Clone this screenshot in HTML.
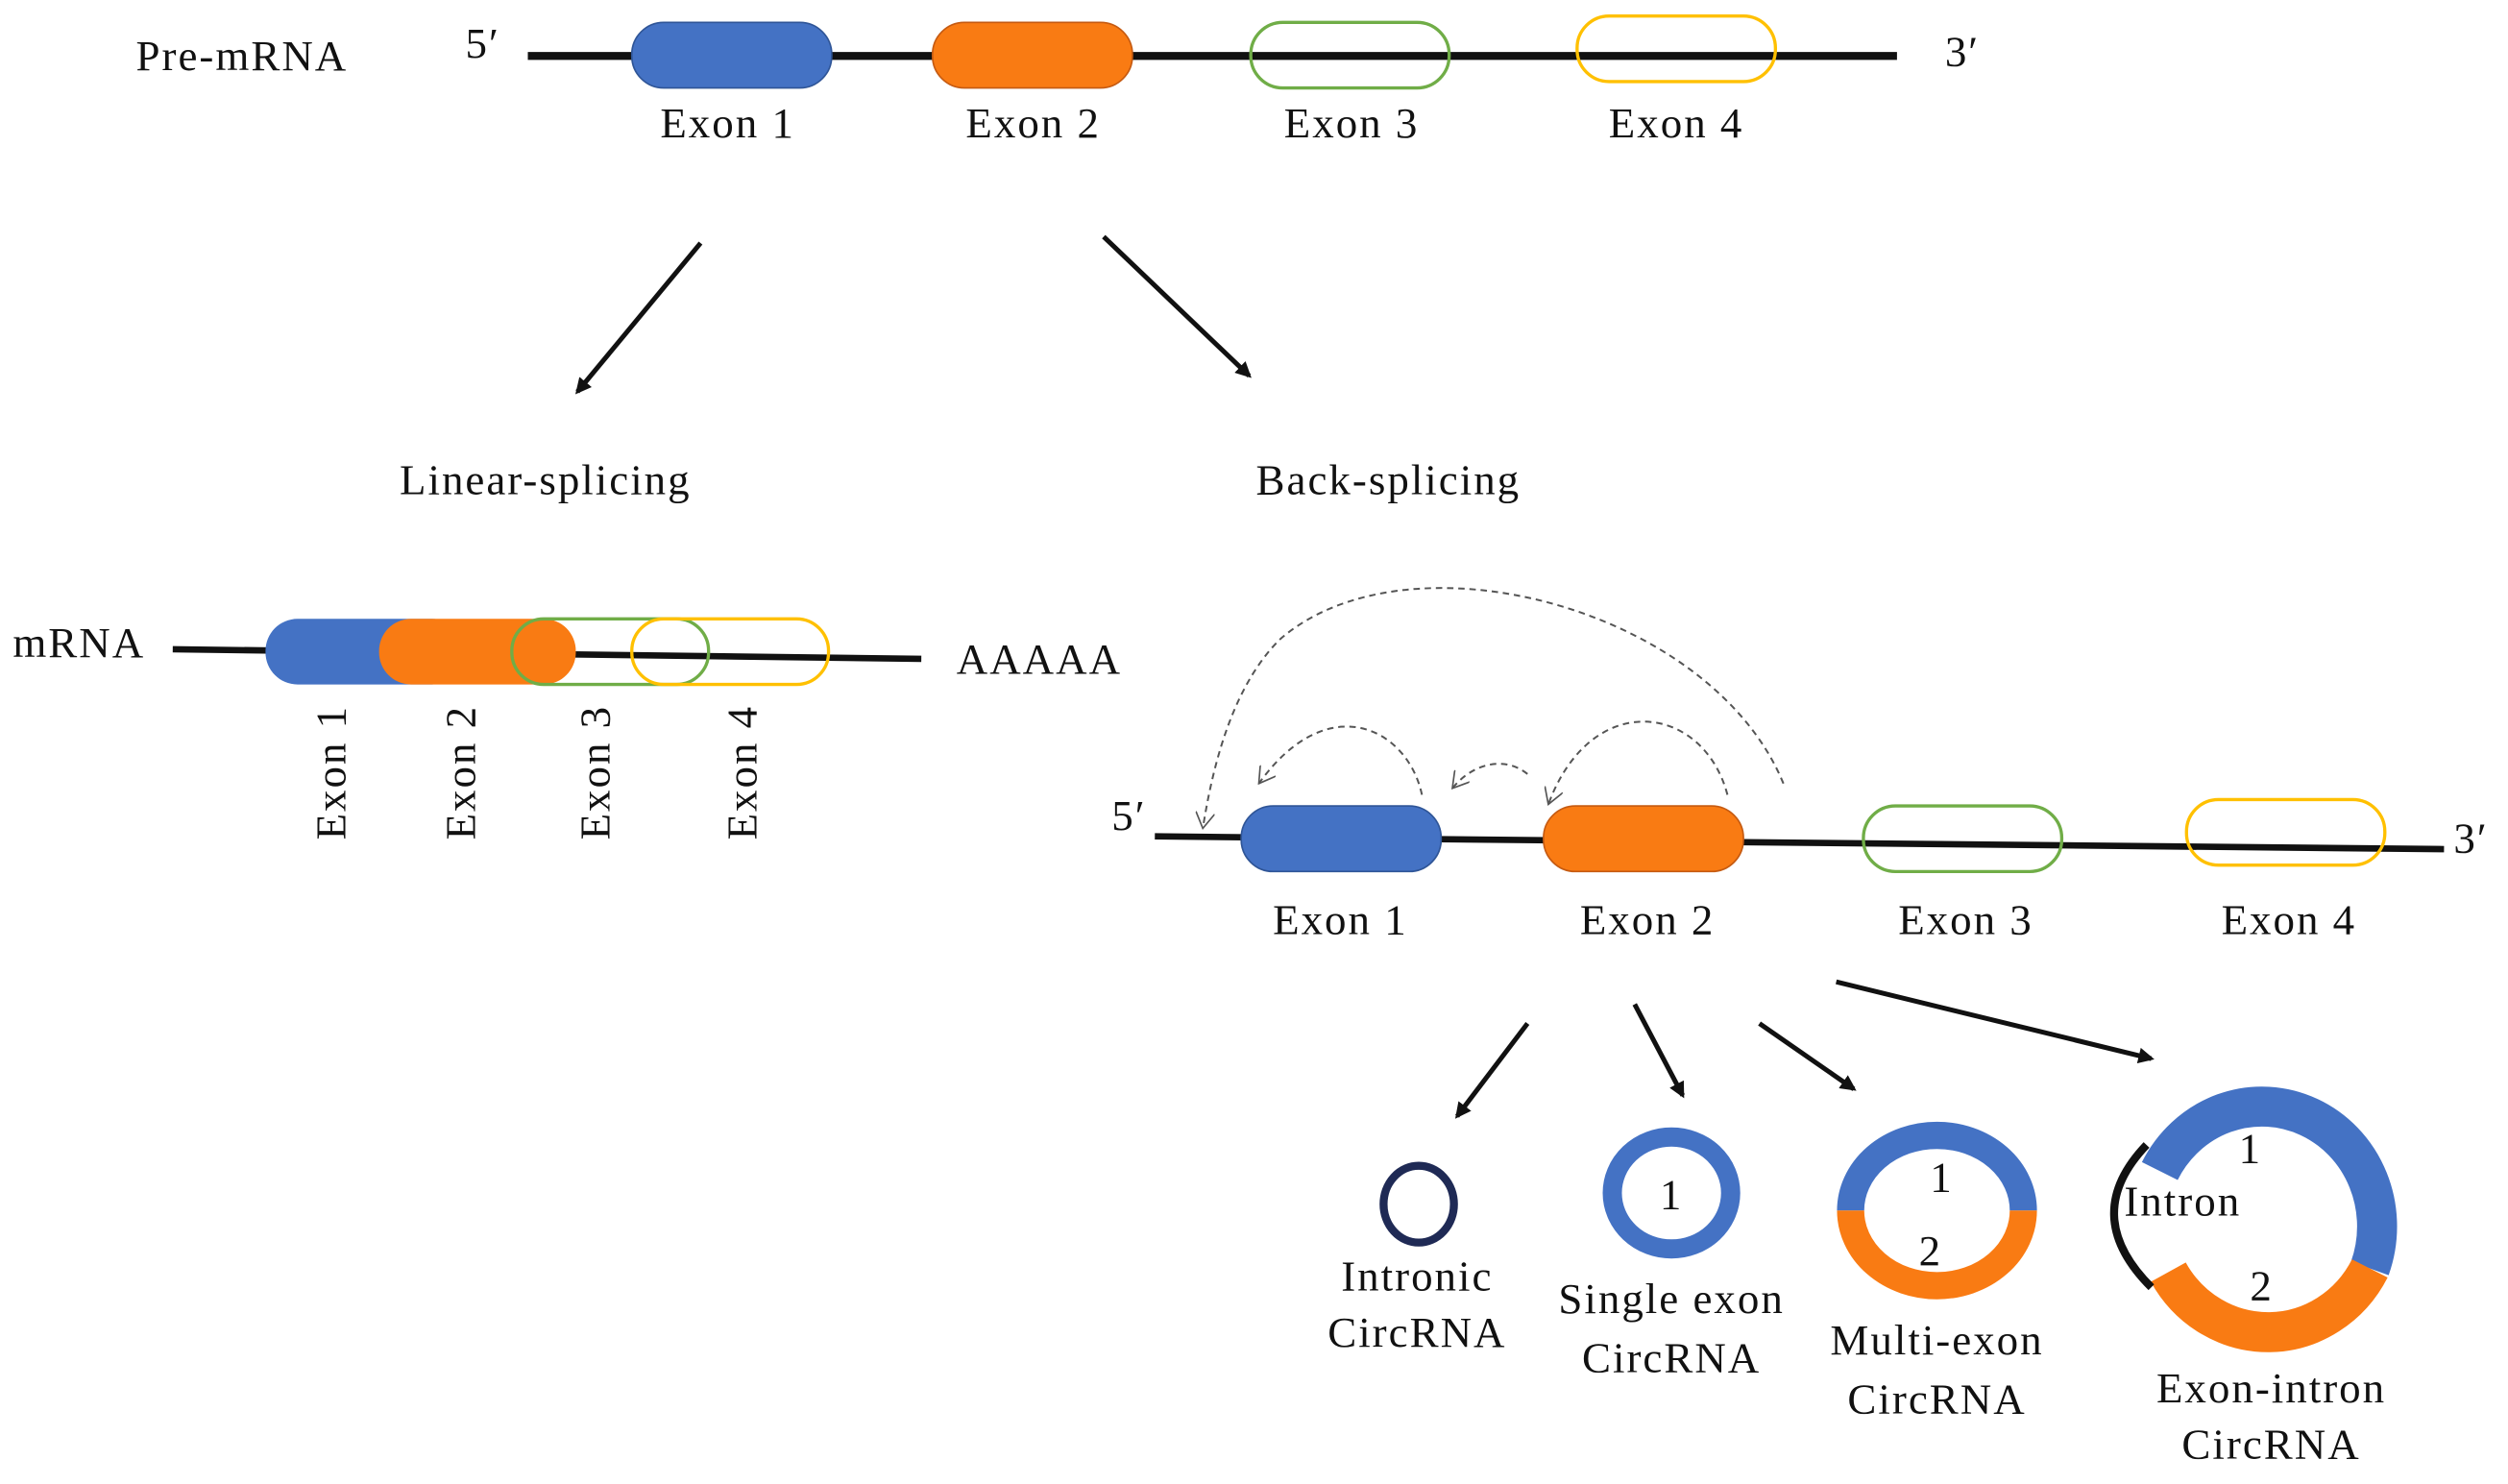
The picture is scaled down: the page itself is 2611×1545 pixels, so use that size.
<!DOCTYPE html>
<html><head><meta charset="utf-8"><style>
html,body{margin:0;padding:0;background:#fff;}
svg{display:block;}
text{font-family:"Liberation Serif",serif;font-size:27px;letter-spacing:1.2px;fill:#111;}
</style></head><body>
<svg width="2611" height="1545" viewBox="0 0 1568 928" preserveAspectRatio="none" xmlns="http://www.w3.org/2000/svg">
<defs>
<marker id="ah" markerWidth="10" markerHeight="10" refX="8" refY="5" orient="auto" markerUnits="userSpaceOnUse"><path d="M0,0 L10,5 L0,10 z" fill="#111"/></marker>
<marker id="dh" markerWidth="12" markerHeight="12" refX="10" refY="6" orient="auto" markerUnits="userSpaceOnUse"><path d="M0,0 L10,6 L0,12" fill="none" stroke="#555" stroke-width="1"/></marker>
</defs>
<!-- Pre-mRNA -->
<text x="85" y="44">Pre-mRNA</text>
<text x="291" y="36">5′</text>
<text x="1216" y="41">3′</text>
<line x1="330" y1="35" x2="1186" y2="35" stroke="#111" stroke-width="5"/>
<rect x="395" y="14" width="125" height="41" rx="20" fill="#4472C4" stroke="#2F5597" stroke-width="1"/>
<rect x="583" y="14" width="125" height="41" rx="20" fill="#F97B13" stroke="#C55A11" stroke-width="1"/>
<rect x="782" y="14" width="124" height="41" rx="20" fill="none" stroke="#70AD47" stroke-width="2"/>
<rect x="986" y="10" width="124" height="41" rx="20" fill="none" stroke="#FFC000" stroke-width="2"/>
<text x="455" y="86" text-anchor="middle">Exon 1</text>
<text x="646" y="86" text-anchor="middle">Exon 2</text>
<text x="845" y="86" text-anchor="middle">Exon 3</text>
<text x="1048" y="86" text-anchor="middle">Exon 4</text>
<line x1="438" y1="152" x2="361" y2="245" stroke="#111" stroke-width="3" marker-end="url(#ah)"/>
<line x1="690" y1="148" x2="781" y2="235" stroke="#111" stroke-width="3" marker-end="url(#ah)"/>
<text x="341" y="309" text-anchor="middle">Linear-splicing</text>
<text x="868" y="309" text-anchor="middle">Back-splicing</text>
<!-- mRNA -->
<text x="8" y="411">mRNA</text>
<line x1="108" y1="406" x2="576" y2="412" stroke="#111" stroke-width="4"/>
<rect x="166" y="387" width="124" height="41" rx="20" fill="#4472C4"/>
<rect x="237" y="387" width="123" height="41" rx="20" fill="#F97B13"/>
<rect x="320" y="387" width="123" height="41" rx="20" fill="none" stroke="#70AD47" stroke-width="2"/>
<rect x="395" y="387" width="123" height="41" rx="20" fill="none" stroke="#FFC000" stroke-width="2"/>
<text x="598" y="421">AAAAA</text>
<text transform="translate(216,483) rotate(-90)" text-anchor="middle">Exon 1</text>
<text transform="translate(297,483) rotate(-90)" text-anchor="middle">Exon 2</text>
<text transform="translate(381,483) rotate(-90)" text-anchor="middle">Exon 3</text>
<text transform="translate(473,483) rotate(-90)" text-anchor="middle">Exon 4</text>
<!-- Back-splicing -->
<text x="695" y="519">5′</text>
<text x="1534" y="533">3′</text>
<line x1="722" y1="523" x2="1528" y2="531" stroke="#111" stroke-width="4"/>
<rect x="776" y="504" width="125" height="41" rx="20" fill="#4472C4" stroke="#2F5597" stroke-width="1"/>
<rect x="965" y="504" width="125" height="41" rx="20" fill="#F97B13" stroke="#C55A11" stroke-width="1"/>
<rect x="1165" y="504" width="124" height="41" rx="20" fill="none" stroke="#70AD47" stroke-width="2"/>
<rect x="1367" y="500" width="124" height="41" rx="20" fill="none" stroke="#FFC000" stroke-width="2"/>
<text x="838" y="584" text-anchor="middle">Exon 1</text>
<text x="1030" y="584" text-anchor="middle">Exon 2</text>
<text x="1229" y="584" text-anchor="middle">Exon 3</text>
<text x="1431" y="584" text-anchor="middle">Exon 4</text>
<g fill="none" stroke="#555" stroke-width="1.2" stroke-dasharray="4,3">
<path d="M1115,490 C1070,380 880,330 800,400 C770,430 758,480 752,518" marker-end="url(#dh)"/>
<path d="M889,497 C880,455 830,430 787,490" marker-end="url(#dh)"/>
<path d="M955,484 C940,472 920,478 908,493" marker-end="url(#dh)"/>
<path d="M1080,497 C1065,440 995,430 968,503" marker-end="url(#dh)"/>
</g>
<line x1="955" y1="640" x2="911" y2="698" stroke="#111" stroke-width="3" marker-end="url(#ah)"/>
<line x1="1022" y1="628" x2="1052" y2="685" stroke="#111" stroke-width="3" marker-end="url(#ah)"/>
<line x1="1100" y1="640" x2="1159" y2="681" stroke="#111" stroke-width="3" marker-end="url(#ah)"/>
<line x1="1148" y1="614" x2="1345" y2="662" stroke="#111" stroke-width="3" marker-end="url(#ah)"/>
<!-- circles -->
<ellipse cx="887" cy="753" rx="22" ry="24" fill="none" stroke="#1F2A55" stroke-width="5"/>
<text x="886" y="807" text-anchor="middle">Intronic</text>
<text x="886" y="842" text-anchor="middle">CircRNA</text>
<ellipse cx="1045" cy="746" rx="37" ry="35" fill="none" stroke="#4472C4" stroke-width="12"/>
<text x="1045" y="756" text-anchor="middle">1</text>
<text x="1045" y="821" text-anchor="middle">Single exon</text>
<text x="1045" y="858" text-anchor="middle">CircRNA</text>
<path d="M1157,757 A54 47 0 0 1 1265,757" fill="none" stroke="#4472C4" stroke-width="17"/>
<path d="M1265,757 A54 47 0 0 1 1157,757" fill="none" stroke="#F97B13" stroke-width="17"/>
<text x="1214" y="745" text-anchor="middle">1</text>
<text x="1207" y="791" text-anchor="middle">2</text>
<text x="1211" y="847" text-anchor="middle">Multi-exon</text>
<text x="1211" y="884" text-anchor="middle">CircRNA</text>
<path d="M1350.3,732.3 A72 75 0 0 1 1481.6,793.2" fill="none" stroke="#4472C4" stroke-width="25"/>
<path d="M1481.6,793.2 A72 75 0 0 1 1355.6,795.5" fill="none" stroke="#F97B13" stroke-width="25"/>
<path d="M1345,805 Q1300,760 1342,716" fill="none" stroke="#111" stroke-width="5"/>
<text x="1328" y="760">Intron</text>
<text x="1407" y="727" text-anchor="middle">1</text>
<text x="1414" y="813" text-anchor="middle">2</text>
<text x="1420" y="877" text-anchor="middle">Exon-intron</text>
<text x="1420" y="912" text-anchor="middle">CircRNA</text>
</svg>
</body></html>
